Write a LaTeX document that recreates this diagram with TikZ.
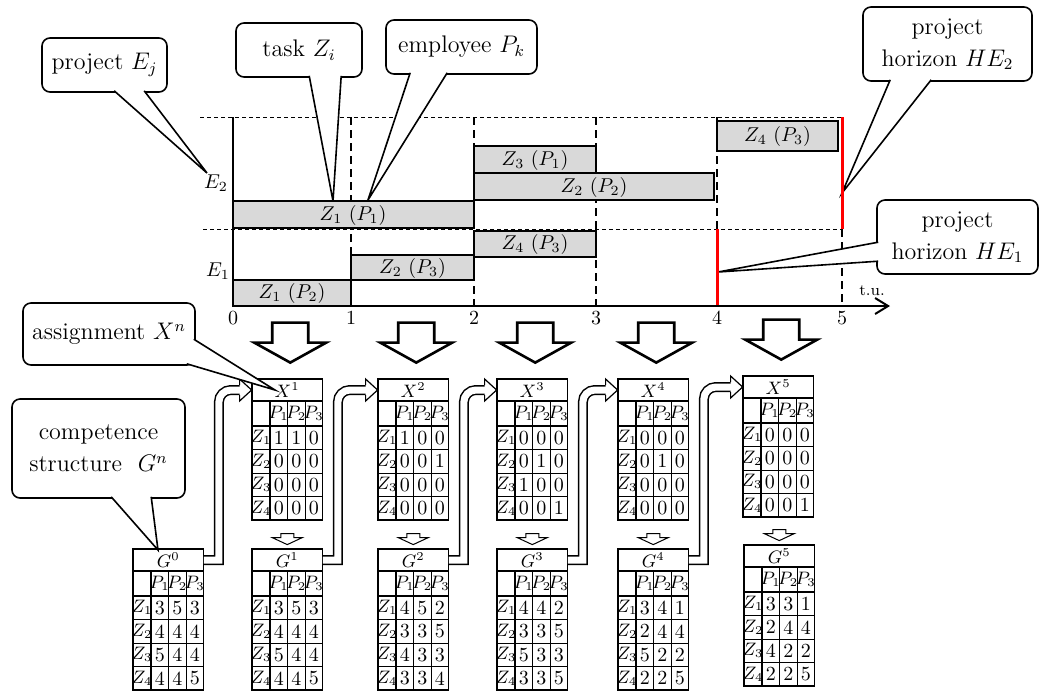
\documentclass[tikz,border=0pt]{standalone}
\usetikzlibrary{calc,arrows.meta}

% one table: name, left x, top y, title, rows
\newcommand{\comptable}[5]{%
  \node[tabhead] (#1) at (#2+35.25,#3+11) {#4};
  \foreach \lab [count=\cl] in {$P_1$,$P_2$,$P_3$}
    \node[cell] (#1p\cl) at (#2+9.25+17.5*\cl,#3+34.5) {\lab};
  \foreach \va/\vb/\vc [count=\rw] in {#5} {
    \node[cell] (#1z\rw) at (#2+9,#3+35.25+23.5*\rw) {$Z_\rw$};
    \node[num] (#1-\rw-1) at (#2+26.75,#3+35.25+23.5*\rw) {\va};
    \node[num] (#1-\rw-2) at (#2+44.25,#3+35.25+23.5*\rw) {\vb};
    \node[num] (#1-\rw-3) at (#2+61.75,#3+35.25+23.5*\rw) {\vc};
  }
  \draw[thin] (#2+35.5,#3+22) -- (#2+35.5,#3+141) (#2+53,#3+22) -- (#2+53,#3+141);
  \foreach \k in {1,2,3}
    \draw[thin] (#2,#3+47+23.5*\k) -- (#2+70.5,#3+47+23.5*\k);
  \draw[tabframe] (#2,#3) rectangle (#2+70.5,#3+141)
    (#2,#3+22) -- (#2+70.5,#3+22) (#2,#3+47) -- (#2+70.5,#3+47)
    (#2+18,#3+22) -- (#2+18,#3+141);
}

\begin{document}
\begin{tikzpicture}[x=0.5pt, y=-0.5pt,
  callout/.style={draw, line width=0.8pt, rounded corners=4pt, fill=white, align=center, inner sep=0pt, font=\fontsize{12}{16}\selectfont},
  pointer/.style={fill=white, line width=0.8pt},
  bar/.style={draw, line width=0.9pt, fill=black!15},
  barlabel/.style={inner sep=0pt},
  vdash/.style={line width=0.8pt, dash pattern=on 4pt off 2.5pt},
  hdash/.style={line width=0.5pt, dash pattern=on 2pt off 1.5pt},
  horizon/.style={red, line width=1.5pt},
  tabhead/.style={minimum width=35.25pt, minimum height=11pt, inner sep=0pt, font=\fontsize{9}{10}\selectfont},
  cell/.style={inner sep=0pt, font=\fontsize{9}{10}\selectfont},
  num/.style={inner sep=0pt, font=\fontsize{10}{11}\selectfont},
  tabframe/.style={line width=0.9pt},
  bigarrow/.style={draw, line width=1.3pt, fill=white, line join=miter},
  smallarrow/.style={draw, line width=0.5pt, fill=white},
  assign/.style={line width=0.75pt, double=white, double distance=3.5pt}]
  \useasboundingbox (0,0) rectangle (1040,693);

  % gantt chart
  \draw[hdash] (200,117) -- (842,117) (203,229) -- (842,229);
  \foreach \x in {351,474,596}
    \draw[vdash] (\x,117) -- (\x,306);
  \draw[vdash] (717,117) -- (717,229) (842,229) -- (842,306);

  % callouts on the chart
  \node[callout, minimum width=62.5pt, minimum height=27pt] (projbox) at (104.5,65) {project $E_j$};
  \coordinate (projtip) at (207,173);
  \filldraw[pointer] ($(projbox.south west)+(73,-2)$) -- (projtip) -- ($(projbox.south west)+(103,-2)$);

  \node[callout, minimum width=63pt, minimum height=27pt] (taskbox) at (299,50) {task $Z_i$};
  \coordinate (tasktip) at (333,201);
  \filldraw[pointer] ($(taskbox.south west)+(74,-2)$) -- (tasktip) -- ($(taskbox.south west)+(106,-2)$);

  \node[callout, minimum width=75.5pt, minimum height=27pt] (empbox) at (461.5,47) {employee $P_k$};
  \coordinate (emptip) at (368,200);
  \filldraw[pointer] ($(empbox.south west)+(25,-2)$) -- (emptip) -- ($(empbox.south west)+(62,-2)$);

  \node[callout, minimum width=84.5pt, minimum height=37pt] (hetwo) at (947.5,44) {project\\horizon $HE_2$};
  \coordinate (hetwotip) at (842,193);
  \filldraw[pointer] ($(hetwo.south west)+(28,-2)$) -- (hetwotip) -- ($(hetwo.south west)+(69,-2)$);

  \node[callout, minimum width=80.5pt, minimum height=37pt] (heone) at (957.5,237) {project\\horizon $HE_1$};
  \coordinate (heonetip) at (718,272);
  \filldraw[pointer] ($(heone.north west)+(2,43)$) -- (heonetip) -- ($(heone.north west)+(2,62)$);

  \draw[bar] (233,201) rectangle (474,228);
  \node[barlabel] (e2z1) at (353,215) {$Z_1\ (P_1)$};
  \draw[bar] (474,173) rectangle (714,200);
  \node[barlabel] (e2z2) at (594,187) {$Z_2\ (P_2)$};
  \draw[bar] (474,146) rectangle (596,173);
  \node[barlabel] (e2z3) at (535,160) {$Z_3\ (P_1)$};
  \draw[bar] (717,121) rectangle (838,151);
  \node[barlabel] (e2z4) at (777.5,136) {$Z_4\ (P_3)$};
  \draw[bar] (233,280) rectangle (351,306);
  \node[barlabel] (e1z1) at (292,293) {$Z_1\ (P_2)$};
  \draw[bar] (351,255) rectangle (474,280);
  \node[barlabel] (e1z2) at (412.5,268) {$Z_2\ (P_3)$};
  \draw[bar] (474,231) rectangle (596,257);
  \node[barlabel] (e1z4) at (535,244) {$Z_4\ (P_3)$};

  \draw[horizon] (717,229) -- (717,306);
  \draw[horizon] (842,117) -- (842,229);
  \draw[line width=1pt, -{Straight Barb[length=6.5pt,width=8pt]}] (233,117) -- (233,306) -- (890,306);

  \node (e2) at (216,183) {$E_2$};
  \node (e1) at (218,271) {$E_1$};
  \foreach \t/\x in {0/233,1/351,2/474,3/596,4/717,5/842}
    \node (tick\t) at (\x,318) {\t};
  \node[font=\footnotesize] (tu) at (872,291) {t.u.};

  % tables
  \comptable{g0}{133}{549}{$G^0$}{3/5/3,4/4/4,5/4/4,4/4/5}
  \comptable{x1}{252}{379}{$X^1$}{1/1/0,0/0/0,0/0/0,0/0/0}
  \comptable{g1}{252}{549}{$G^1$}{3/5/3,4/4/4,5/4/4,4/4/5}
  \comptable{x2}{378}{379}{$X^2$}{1/0/0,0/0/1,0/0/0,0/0/0}
  \comptable{g2}{378}{549}{$G^2$}{4/5/2,3/3/5,4/3/3,3/3/4}
  \comptable{x3}{497}{379}{$X^3$}{0/0/0,0/1/0,1/0/0,0/0/1}
  \comptable{g3}{497}{549}{$G^3$}{4/4/2,3/3/5,5/3/3,3/3/5}
  \comptable{x4}{618}{379}{$X^4$}{0/0/0,0/1/0,0/0/0,0/0/0}
  \comptable{g4}{618}{549}{$G^4$}{3/4/1,2/4/4,5/2/2,2/2/5}
  \comptable{x5}{743}{376}{$X^5$}{0/0/0,0/0/0,0/0/0,0/0/1}
  \comptable{g5}{744}{545}{$G^5$}{3/3/1,2/4/4,4/2/2,2/2/5}

  \foreach \n in {x1,x2,x3,x4,x5}
    \draw[bigarrow] ($(\n.north)+(-15,-56)$) -- ++(36,0) -- ++(0,20) -- ++(18,0)
      -- ++(-36,20) -- ++(-36,-20) -- ++(18,0) -- cycle;
  \foreach \n in {g1,g2,g3,g4,g5}
    \draw[smallarrow] ($(\n.north)+(-6.5,-15)$) -- ++(13,0) -- ++(0,4) -- ++(8.5,0)
      -- ++(-15,7) -- ++(-15,-7) -- ++(8.5,0) -- cycle;

  \foreach \g/\x in {g0/x1,g1/x2,g2/x3,g3/x4,g4/x5} {
    \draw[assign] (\g.east) -- ++(15,0) [rounded corners=6pt] |- ($(\x.west)+(-11,0)$);
    \filldraw[fill=white, line width=0.6pt] ($(\x.west)+(-12,-5)$) -- ++(0,-6) -- (\x.west)
      -- ++(-12,11) -- ++(0,-6);
  }

  % callouts on the tables
  \node[callout, minimum width=86pt, minimum height=31pt] (asgbox) at (109,334) {assignment $X^n$};
  \coordinate (asgtip) at (275,390);
  \filldraw[pointer] ($(asgbox.north east)+(-2,37)$) -- (asgtip) -- ($(asgbox.south east)+(-9,-2)$);

  \node[callout, minimum width=86.5pt, minimum height=49.5pt] (compbox) at (98.5,448.5) {competence\\structure~~$G^n$};
  \coordinate (comptip) at (158,550);
  \filldraw[pointer] ($(compbox.south west)+(100,-2)$) -- (comptip) -- ($(compbox.south west)+(140,-2)$);
\end{tikzpicture}
\end{document}
